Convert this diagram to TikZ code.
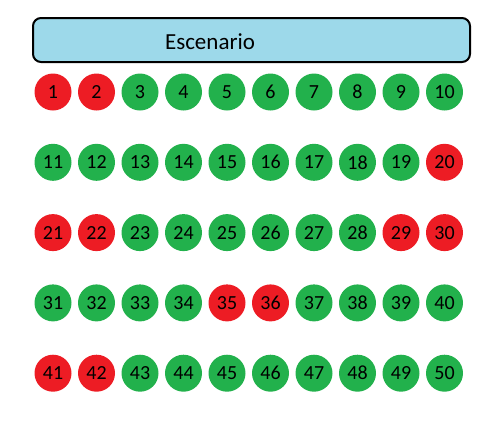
\documentclass[tikz,border=0pt]{standalone}
\usepackage{fontspec}
\setmainfont{Carlito}
\usepackage{xcolor}
\usetikzlibrary{positioning}
\definecolor{seatgreen}{HTML}{22B14C}
\definecolor{seatred}{HTML}{ED1C24}
\definecolor{stageblue}{HTML}{9DD9EA}
\tikzset{
  seat/.style={circle,minimum size=37pt,inner sep=0pt,font=\fontsize{20}{20}\selectfont},
  seatok/.style={seat,fill=seatgreen},
  seatno/.style={seat,fill=seatred},
}
\begin{document}
\begin{tikzpicture}[x=1pt,y=-1pt]
\useasboundingbox (0,0) rectangle (485,421);
\node[draw,line width=2pt,rounded corners=8pt,fill=stageblue,minimum width=437pt,minimum height=44pt,inner sep=0pt] (stage) at (251.5,40) {};
\node[font=\fontsize{23}{23}\selectfont] (stagelbl) at (210,42) {Escenario};

% butacas: libre (verde) / ocupada (rojo)
\foreach \n/\s in {1/seatno,2/seatno,3/seatok,4/seatok,5/seatok,6/seatok,7/seatok,8/seatok,9/seatok,10/seatok,
  11/seatok,12/seatok,13/seatok,14/seatok,15/seatok,16/seatok,17/seatok,18/seatok,19/seatok,20/seatno,
  21/seatno,22/seatno,23/seatok,24/seatok,25/seatok,26/seatok,27/seatok,28/seatok,29/seatno,30/seatno,
  31/seatok,32/seatok,33/seatok,34/seatok,35/seatno,36/seatno,37/seatok,38/seatok,39/seatok,40/seatok,
  41/seatno,42/seatno,43/seatok,44/seatok,45/seatok,46/seatok,47/seatok,48/seatok,49/seatok,50/seatok}{
  \pgfmathtruncatemacro{\col}{mod(\n-1,10)}
  \pgfmathtruncatemacro{\row}{(\n-1)/10}
  \node[\s] (s\n) at (53+43.5*\col,92+70.3*\row) {\n};
}
\end{tikzpicture}
\end{document}
